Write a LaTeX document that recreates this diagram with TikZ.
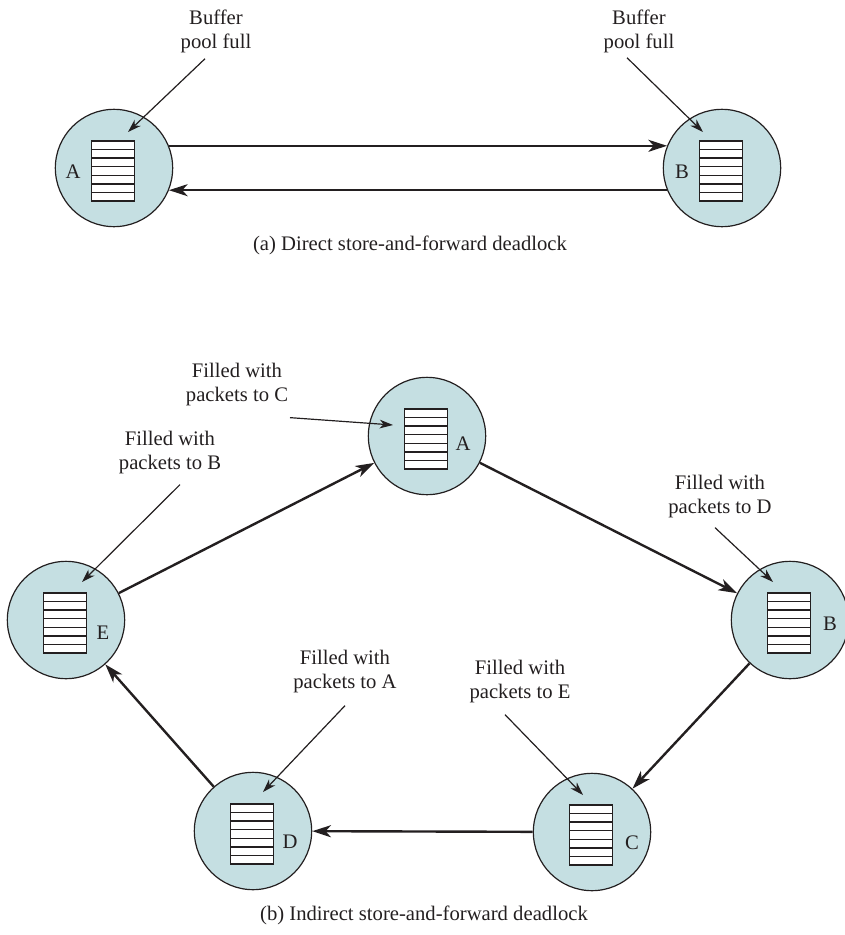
\documentclass[tikz,border=0pt]{standalone}
\usepackage{fontspec}
\setmainfont{Liberation Serif}
\usepackage{tikz}
\usetikzlibrary{arrows.meta,positioning,calc}
\usepackage{xcolor}
\definecolor{Ink}{HTML}{231F20}
\definecolor{HostFill}{HTML}{C5DFE2}
\tikzset{
  host/.style={circle,minimum size=88pt,inner sep=0pt,fill=HostFill,draw=Ink,line width=0.9pt},
  tag/.style={font=\fontsize{15.5}{18}\selectfont,text=Ink,inner sep=0pt},
  note/.style={tag,align=center},
  link/.style={-{Stealth[length=14pt,width=9pt,inset=4pt]},draw=Ink,line width=1.8pt},
  pointer/.style={-{Stealth[length=10pt,width=6.5pt,inset=3pt]},draw=Ink,line width=0.9pt},
  bufferstack/.pic={
    \draw[Ink,fill=white,line width=1.1pt] (-21.5,-30) rectangle (21.5,30);
    \foreach \k in {1,...,6}
      \draw[Ink,line width=1.1pt] (-21.5,-30+\k*60/7) -- (21.5,-30+\k*60/7);
  }
}
\begin{document}
\begin{tikzpicture}[x=0.75pt,y=-0.75pt]
\useasboundingbox (0,0) rectangle (844,935);
\node[host] (nA) at (114,168) {};
\node[host] (nB) at (722,168) {};
\pic at ([shift={(-1,3)}]nA.center) {bufferstack};
\pic at ([shift={(-1,3)}]nB.center) {bufferstack};
\node[tag] (tA) at ([shift={(-41,4)}]nA.center) {A};
\node[tag] (tB) at ([shift={(-40,4)}]nB.center) {B};
\draw[link] (nA.22) -- (nB.158);
\draw[link] (nB.202) -- (nA.338);
\node[note] (fullA) at (216,31) {Buffer\\pool full};
\node[note] (fullB) at (639,31) {Buffer\\pool full};
\coordinate (pA) at ([shift={(14,-36)}]nA.center);
\coordinate (pB) at ([shift={(-19,-36)}]nB.center);
\draw[pointer] ([shift={(-11,6)}]fullA.south) -- (pA);
\draw[pointer] ([shift={(-12,5)}]fullB.south) -- (pB);
\node[tag] (capA) at (410,245) {(a) Direct store-and-forward deadlock};
\node[host] (A) at (427,436) {};
\node[host] (E) at (66,620) {};
\node[host] (B) at (790,620) {};
\node[host] (D) at (253,831) {};
\node[host] (C) at (592,832) {};
\foreach \n in {A,E,B,D,C}
  \pic at ([shift={(-1,3)}]\n.center) {bufferstack};
\node[tag] at ([shift={(36,8)}]A.center) {A};
\node[tag] at ([shift={(37,13)}]E.center) {E};
\node[tag] at ([shift={(40,4)}]B.center) {B};
\node[tag] at ([shift={(37,11)}]D.center) {D};
\node[tag] at ([shift={(40,11)}]C.center) {C};
\draw[link] (E) -- (A);
\draw[link] (A) -- (B);
\draw[link] (B) -- (C);
\draw[link] (C) -- (D);
\draw[link] (D) -- (E);
\node[note] (toC) at (237,385) {Filled with\\packets to C};
\node[note] (toB) at (170,453) {Filled with\\packets to B};
\node[note] (toD) at (720,497) {Filled with\\packets to D};
\node[note] (toA) at (345,672) {Filled with\\packets to A};
\node[note] (toE) at (520,682) {Filled with\\packets to E};
\coordinate (qA) at ([shift={(-34,-11)}]A.center);
\coordinate (qE) at ([shift={(16,-38)}]E.center);
\coordinate (qB) at ([shift={(-17,-38)}]B.center);
\coordinate (qD) at ([shift={(10,-39)}]D.center);
\coordinate (qC) at ([shift={(-9,-37)}]C.center);
\draw[pointer] ([shift={(53,11)}]toC.south) -- (qA);
\draw[pointer] ([shift={(10,10)}]toB.south) -- (qE);
\draw[pointer] ([shift={(-5,9)}]toD.south) -- (qB);
\draw[pointer] ([shift={(0,12)}]toA.south) -- (qD);
\draw[pointer] ([shift={(-15,11)}]toE.south) -- (qC);
\node[tag] (capB) at (424,915) {(b) Indirect store-and-forward deadlock};
\end{tikzpicture}
\end{document}
